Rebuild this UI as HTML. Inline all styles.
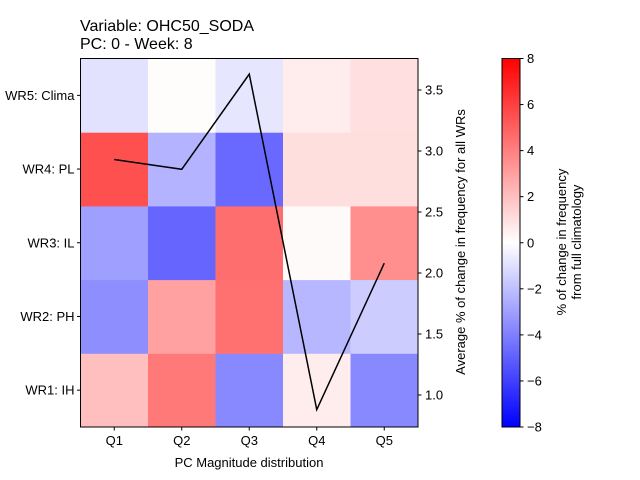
<!DOCTYPE html>
<html><head><meta charset="utf-8">
<style>
body{margin:0;background:#fff;overflow:hidden;}
svg{display:block;font-family:"Liberation Sans","DejaVu Sans",sans-serif;}
</style></head>
<body>
<svg id="chart" width="640" height="480" xmlns="http://www.w3.org/2000/svg">
<defs>
<linearGradient id="bwr" x1="0" y1="1" x2="0" y2="0">
<stop offset="0" stop-color="#0000ff"/>
<stop offset="0.5" stop-color="#ffffff"/>
<stop offset="1" stop-color="#ff0000"/>
</linearGradient>
</defs>
<text x="80" y="31" font-size="16">Variable: OHC50_SODA</text>
<text x="80" y="49" font-size="16">PC: 0 - Week: 8</text>
<g id="cells"></g>
<g id="line"></g>
<rect x="80.5" y="58.5" width="337.5" height="368.5" fill="none" stroke="#000" stroke-width="1"/>
<g id="axes"></g>
<text x="249" y="467" font-size="13" text-anchor="middle">PC Magnitude distribution</text>
<text transform="translate(465,242) rotate(-90)" font-size="13" text-anchor="middle">Average % of change in frequency for all WRs</text>
<rect x="502" y="58.5" width="18" height="368.5" fill="url(#bwr)" stroke="#000" stroke-width="1"/>
<g id="cbaxis"></g>
<text transform="translate(566,242) rotate(-90)" font-size="13" text-anchor="middle"><tspan x="0" dy="0">% of change in frequency</tspan><tspan x="0" dy="15">from full climatology</tspan></text>
</svg>
<script>
const categories = ["Q1","Q2","Q3","Q4","Q5"];
const regimes = ["WR1: IH","WR2: PH","WR3: IL","WR4: PL","WR5: Clima"];
const wr1 = [2.0, 4.2, -3.7, 0.55, -3.7];
const wr2 = [-3.55, 2.95, 4.45, -2.25, -1.6];
const wr3 = [-3.0, -4.8, 4.55, 0.15, 3.5];
const wr4 = [5.5, -2.4, -4.7, 1.05, 1.05];
const wr5 = [-0.9, 0.1, -0.8, 0.6, 1.0];
const avgValues = [2.93, 2.85, 3.63, 0.88, 2.08];
const rightTicks = [1.0, 1.5, 2.0, 2.5, 3.0, 3.5];
const cbTicks = [-8, -6, -4, -2, 0, 2, 4, 6, 8];

const NS = "http://www.w3.org/2000/svg";
const X0 = 80.5, X1 = 418, Y0 = 58.5, Y1 = 427;
const cw = (X1 - X0) / categories.length, rh = (Y1 - Y0) / regimes.length;
const xCenter = i => X0 + cw * (i + 0.5);
const yRow = r => Y1 - rh * (r + 1);
const yRight = v => 395 - (v - 1.0) * 122;
const yCb = v => Y1 - (v + 8) / 16 * (Y1 - Y0);
function color(v){
  const t = Math.max(-1, Math.min(1, v / 8));
  let r, g, b;
  if (t >= 0){ r = 255; g = b = Math.round(255 * (1 - t)); }
  else { b = 255; r = g = Math.round(255 * (1 + t)); }
  return `rgb(${r},${g},${b})`;
}
function mk(tag, attrs, parent){
  const e = document.createElementNS(NS, tag);
  for (const k in attrs) e.setAttribute(k, attrs[k]);
  parent.appendChild(e); return e;
}
const rows = [wr1, wr2, wr3, wr4, wr5];
const cells = document.getElementById("cells");
rows.forEach((row, r) => row.forEach((v, c) => {
  const e = mk("rect", {x: X0 + cw * c, y: yRow(r), width: cw + 0.5, height: rh + 0.5, fill: color(v)}, cells);
  
  
}));
const lineG = document.getElementById("line");
const pl = mk("polyline", {points: avgValues.map((v, i) => xCenter(i) + "," + yRight(v)).join(" "), fill: "none", stroke: "#000", "stroke-width": 1.5}, lineG);


const axes = document.getElementById("axes");
categories.forEach((c, i) => {
  const t = mk("line", {x1: xCenter(i), x2: xCenter(i), y1: Y1, y2: Y1 + 3.5, stroke: "#000"}, axes);
  
  
  const l = mk("text", {x: xCenter(i), y: Y1 + 18, "font-size": 13, "text-anchor": "middle"}, axes);
  l.textContent = c;
  
  
});
regimes.forEach((n, r) => {
  const y = yRow(r) + rh / 2;
  const t = mk("line", {x1: X0 - 3.5, x2: X0, y1: y, y2: y, stroke: "#000"}, axes);
  
  
  const l = mk("text", {x: X0 - 6, y: y + 4.5, "font-size": 13, "text-anchor": "end"}, axes);
  l.textContent = n;
  
  
});
rightTicks.forEach(v => {
  const y = yRight(v);
  const t = mk("line", {x1: X1, x2: X1 + 3.5, y1: y, y2: y, stroke: "#000"}, axes);
  
  
  const l = mk("text", {x: X1 + 7, y: y + 4.5, "font-size": 13}, axes);
  l.textContent = v.toFixed(1);
  
  
});
const cb = document.getElementById("cbaxis");
cbTicks.forEach(v => {
  const y = yCb(v);
  const t = mk("line", {x1: 520, x2: 523.5, y1: y, y2: y, stroke: "#000"}, cb);
  
  
  const l = mk("text", {x: 527, y: y + 4.5, "font-size": 13}, cb);
  l.textContent = v < 0 ? "\u2212" + Math.abs(v) : String(v);
  
  
});
</script>
</body></html>
